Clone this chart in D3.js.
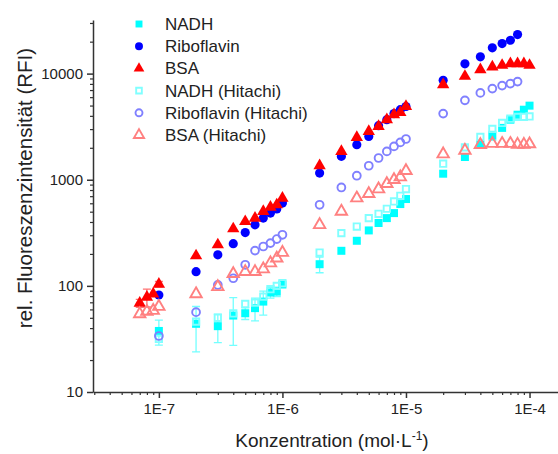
<!DOCTYPE html>
<html>
<head>
<meta charset="utf-8">
<script src="https://cdn.jsdelivr.net/npm/d3@7"></script>
<style>
  body { margin: 0; background: #fff; }
  text { font-family: "Liberation Sans", Arial, sans-serif; fill: #222; }
</style>
</head>
<body>
<div id="chart"></div>
<script>
// concentrations (mol/L)
var conc = [7e-8, 8e-8, 9e-8, 1e-7,
  2e-7, 3e-7, 4e-7, 5e-7, 6e-7, 7e-7, 8e-7, 9e-7, 1e-6,
  2e-6, 3e-6, 4e-6, 5e-6, 6e-6, 7e-6, 8e-6, 9e-6, 1e-5,
  2e-5, 3e-5, 4e-5, 5e-5, 6e-5, 7e-5, 8e-5, 9e-5, 1e-4];

var nadh = [null, null, null, 37.6,
  43.9, 41.7, 52.5, 55.2, 61.7, 71.1, 86.5, 88.4, 103,
  160, 214, 266, 333, 391, 435, 485, 590, 658,
  1140, 1637, 2140, 2600, 3080, 3680, 4100, 4570, 4990];
var nadhErr = [null, null, null, 10,
  20, 12.5, 25, 7, 15, 18, 10, 9, null,
  27, null, null, null, null, null, null, null, null,
  null, null, null, 250, null, null, null, null, null];

var ribo = [null, null, null, 82,
  136, 196, 250, 318, 376, 435, 485, 530, 603,
  1156, 1660, 2138, 2560, 3230, 3680, 4200, 4570, 4900,
  8650, 12360, 14390, 17490, 19200, 20620, 23330, null, null];

var bsa = [68.7, 78.2, 84, 104,
  192, 244, 345, 404, 435, 503, 552, 581, 671,
  1355, 1849, 2506, 2856, 3185, 3683, 4105, 4316, 4917,
  7870, 9440, 10910, 11570, 11980, 12420, 12420, 12420, 11980];
var bsaErr = [6, 15, null, 6,
  null, null, null, null, null, null, null, null, null,
  null, null, null, null, null, null, null, null, null,
  null, null, null, null, null, null, null, null, null];

var nadhH = [null, null, null, 31.6,
  46, 50, 55, 67.6, 69.5, 79.2, 93, 100, 106,
  206, 314, 362, 435, 478, 533, 624, 706, 817,
  1416, 2018, 2530, 3008, 3430, 3760, 3910, 3910, 3950];
var riboH = [null, null, null, 33.7,
  56.5, 102, 118, 158, 215, 235, 253, 276, 303,
  581, 846, 1091, 1355, 1603, 1849, 2061, 2248, 2421,
  4200, 5600, 6580, 7220, 7710, 8050, 8410, null, null];
var bsaH = [54.4, 57.3, 58.5, 63.8,
  84, 98, 130, 136, 136, 144, 164, 182, 206,
  376, 503, 671, 738, 817, 917, 1000, 1060, 1216,
  1746, 1889, 2138, 2190, 2190, 2190, 2150, 2150, 2170];

var seriesNames = ["NADH", "Riboflavin", "BSA", "NADH (Hitachi)", "Riboflavin (Hitachi)", "BSA (Hitachi)"];
var xTicks = [1e-7, 1e-6, 1e-5, 1e-4];
var xTickLabels = ["1E-7", "1E-6", "1E-5", "1E-4"];
var yTicks = [10, 100, 1000, 10000];

var series = [
  { name: seriesNames[0], values: nadh, err: nadhErr, shape: d3.symbolSquare, size: 64, color: "#00ffff", filled: true },
  { name: seriesNames[1], values: ribo, err: null, shape: d3.symbolCircle, size: 66, color: "#0000ff", filled: true },
  { name: seriesNames[2], values: bsa, err: bsaErr, shape: d3.symbolTriangle, size: 66, color: "#ff0000", filled: true },
  { name: seriesNames[3], values: nadhH, err: null, shape: d3.symbolSquare, size: 40, color: "#80ffff", filled: false },
  { name: seriesNames[4], values: riboH, err: null, shape: d3.symbolCircle, size: 48, color: "#8080ff", filled: false },
  { name: seriesNames[5], values: bsaH, err: null, shape: d3.symbolTriangle, size: 56, color: "#ff8080", filled: false }
];

var width = 558, height = 454;

var svg = d3.select("#chart").append("svg")
  .attr("width", width)
  .attr("height", height);

var x = d3.scaleLog().domain([2.93e-8, 1.7e-4]).range([93, 558]);
var y = d3.scaleLog().domain([10, 32000]).range([392, 20]);

function minors(lo, hi) {
  var out = [];
  for (var e = Math.floor(Math.log10(lo)); e <= Math.ceil(Math.log10(hi)); e++) {
    for (var k = 2; k <= 9; k++) {
      var v = k * Math.pow(10, e);
      if (v >= lo && v <= hi) out.push(v);
    }
  }
  return out;
}

// x axis
var xAxis = d3.axisBottom(x).tickValues(xTicks)
  .tickFormat(function (d, i) { return xTickLabels[i]; })
  .tickSize(6).tickPadding(5).tickSizeOuter(0);
var gx = svg.append("g").attr("transform", "translate(0,392)").call(xAxis);
gx.selectAll(".tick line").attr("stroke", "#333").attr("stroke-width", 1.5);
gx.select(".domain").attr("stroke", "#333").attr("stroke-width", 1.5);
gx.selectAll(".tick text").style("font-size", "15px").style("font-family", "Liberation Sans, Arial, sans-serif").attr("fill", "#222");
svg.append("g").attr("transform", "translate(0,392)")
  .call(d3.axisBottom(x).tickValues(minors(2.93e-8, 1.7e-4)).tickFormat("").tickSize(3).tickSizeOuter(0))
  .call(function (g) { g.select(".domain").remove(); g.selectAll("line").attr("stroke", "#333").attr("stroke-width", 1.2); });

// y axis
var yAxis = d3.axisLeft(y).tickValues(yTicks).tickFormat(d3.format("d"))
  .tickSize(6).tickPadding(4).tickSizeOuter(0);
var gy = svg.append("g").attr("transform", "translate(93,0)").call(yAxis);
gy.selectAll(".tick line").attr("stroke", "#333").attr("stroke-width", 1.5);
gy.select(".domain").attr("stroke", "#333").attr("stroke-width", 1.5);
gy.selectAll(".tick text").style("font-size", "15px").style("font-family", "Liberation Sans, Arial, sans-serif").attr("fill", "#222");
svg.append("g").attr("transform", "translate(93,0)")
  .call(d3.axisLeft(y).tickValues(minors(10, 32000)).tickFormat("").tickSize(3).tickSizeOuter(0))
  .call(function (g) { g.select(".domain").remove(); g.selectAll("line").attr("stroke", "#333").attr("stroke-width", 1.2); });

// axis titles
var xt = svg.append("text")
  .attr("x", 332).attr("y", 447)
  .attr("text-anchor", "middle")
  .style("font-size", "19px")
  .text("Konzentration (mol\u00b7L");
xt.append("tspan").attr("dy", -7).style("font-size", "12px").text("-1");
xt.append("tspan").attr("dy", 7).text(")");

svg.append("text")
  .attr("transform", "translate(32,188) rotate(-90)")
  .attr("text-anchor", "middle")
  .style("font-size", "20.5px")
  .text("rel. Fluoreszenzintensit\u00e4t (RFI)");

// error bars + markers
series.forEach(function (s) {
  var pts = conc.map(function (c, i) {
    return { c: c, v: s.values[i], e: s.err ? s.err[i] : null };
  }).filter(function (d) { return d.v != null; });

  var eb = pts.filter(function (d) { return d.e != null; });
  var g = svg.append("g");
  var errColor = s.filled ? d3.interpolateRgb(s.color, "#fff")(0.45) : s.color;
  g.selectAll(".eb").data(eb).enter().append("path")
    .attr("fill", "none")
    .attr("stroke", errColor)
    .attr("stroke-width", 1.3)
    .attr("d", function (d) {
      var cx = x(d.c), y1 = y(d.v + d.e), y0 = y(Math.max(d.v - d.e, 10.5));
      return "M" + (cx - 4) + "," + y1 + "H" + (cx + 4) + "M" + cx + "," + y1 + "V" + y0 +
        "M" + (cx - 4) + "," + y0 + "H" + (cx + 4);
    });

  g.selectAll(".pt").data(pts).enter().append("path")
    .attr("transform", function (d) { return "translate(" + x(d.c) + "," + y(d.v) + ")"; })
    .attr("d", d3.symbol().type(s.shape).size(s.size))
    .attr("fill", s.filled ? s.color : "none")
    .attr("stroke", s.filled ? "none" : s.color)
    .attr("stroke-width", s.filled ? 0 : 1.9);
});

// legend
var legend = svg.append("g");
series.forEach(function (s, i) {
  var ly = 24 + i * 22.2;
  legend.append("path")
    .attr("transform", "translate(139," + ly + ")")
    .attr("d", d3.symbol().type(s.shape).size(s.filled ? s.size * 0.75 : s.size * 0.8))
    .attr("fill", s.filled ? s.color : "none")
    .attr("stroke", s.filled ? "none" : s.color)
    .attr("stroke-width", s.filled ? 0 : 1.9);
  legend.append("text")
    .attr("x", 165).attr("y", ly + 6)
    .style("font-size", "17px")
    .text(s.name);
});
</script>
</body>
</html>
